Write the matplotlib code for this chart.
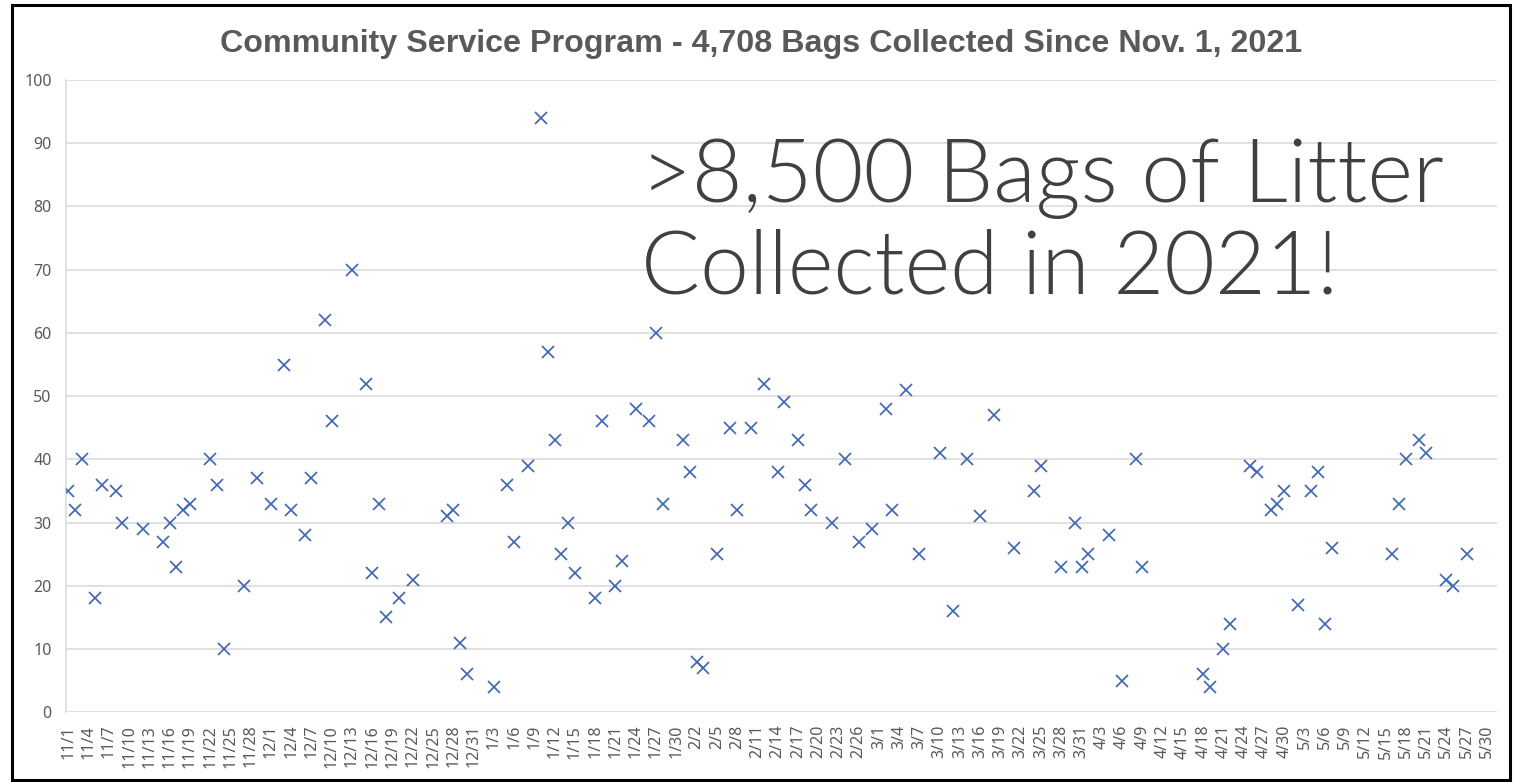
import matplotlib
matplotlib.use('Agg')
import matplotlib.pyplot as plt
import matplotlib.dates as mdates
from matplotlib.patches import Rectangle
import pandas as pd

# Bolsas recogidas por día
fechas = [
    '2021-11-01', '2021-11-02', '2021-11-03', '2021-11-05', '2021-11-06', '2021-11-08',
    '2021-11-09', '2021-11-12', '2021-11-15', '2021-11-16', '2021-11-17', '2021-11-18',
    '2021-11-19', '2021-11-22', '2021-11-23', '2021-11-24', '2021-11-27', '2021-11-29',
    '2021-12-01', '2021-12-03', '2021-12-04', '2021-12-06', '2021-12-07', '2021-12-09',
    '2021-12-10', '2021-12-13', '2021-12-15', '2021-12-16', '2021-12-17', '2021-12-18',
    '2021-12-20', '2021-12-22', '2021-12-27', '2021-12-28', '2021-12-29', '2021-12-30',
    '2022-01-03', '2022-01-05', '2022-01-06', '2022-01-08', '2022-01-10', '2022-01-11',
    '2022-01-12', '2022-01-13', '2022-01-14', '2022-01-15', '2022-01-18', '2022-01-19',
    '2022-01-21', '2022-01-22', '2022-01-24', '2022-01-26', '2022-01-27', '2022-01-28',
    '2022-01-31', '2022-02-01', '2022-02-02', '2022-02-03', '2022-02-05', '2022-02-07',
    '2022-02-08', '2022-02-10', '2022-02-12', '2022-02-14', '2022-02-15', '2022-02-17',
    '2022-02-18', '2022-02-19', '2022-02-22', '2022-02-24', '2022-02-26', '2022-02-28',
    '2022-03-02', '2022-03-03', '2022-03-05', '2022-03-07', '2022-03-10', '2022-03-12',
    '2022-03-14', '2022-03-16', '2022-03-18', '2022-03-21', '2022-03-24', '2022-03-25',
    '2022-03-28', '2022-03-30', '2022-03-31', '2022-04-01', '2022-04-04', '2022-04-06',
    '2022-04-08', '2022-04-09', '2022-04-18', '2022-04-19', '2022-04-21', '2022-04-22',
    '2022-04-25', '2022-04-26', '2022-04-28', '2022-04-29', '2022-04-30', '2022-05-02',
    '2022-05-04', '2022-05-05', '2022-05-06', '2022-05-07', '2022-05-16', '2022-05-17',
    '2022-05-18', '2022-05-20', '2022-05-21', '2022-05-24', '2022-05-25', '2022-05-27',
]
bolsas = [
    35, 32, 40, 18, 36, 35,
    30, 29, 27, 30, 23, 32,
    33, 40, 36, 10, 20, 37,
    33, 55, 32, 28, 37, 62,
    46, 70, 52, 22, 33, 15,
    18, 21, 31, 32, 11, 6,
    4, 36, 27, 39, 94, 57,
    43, 25, 30, 22, 18, 46,
    20, 24, 48, 46, 60, 33,
    43, 38, 8, 7, 25, 45,
    32, 45, 52, 38, 49, 43,
    36, 32, 30, 40, 27, 29,
    48, 32, 51, 25, 41, 16,
    40, 31, 47, 26, 35, 39,
    23, 30, 23, 25, 28, 5,
    40, 23, 6, 4, 10, 14,
    39, 38, 32, 33, 35, 17,
    35, 38, 14, 26, 25, 33,
    40, 43, 41, 21, 20, 25,
]

titulo = 'Community Service Program - 4,708 Bags Collected Since Nov. 1, 2021'
linea1 = '>8,500 Bags of Litter'
linea2 = 'Collected in 2021!'

W, H = 1514, 782
gris = '#595959'
rejilla = '#D9D9D9'

x = mdates.date2num(pd.to_datetime(fechas))
inicio = mdates.date2num(pd.Timestamp('2021-11-01'))
ticks = pd.date_range('2021-11-01', '2022-05-30', freq='3D')

fig = plt.figure(figsize=(W / 100, H / 100), dpi=100)
ax = fig.add_axes([65.7 / W, 1 - 712.3 / H, (1496.7 - 65.7) / W, (712.3 - 80) / H])

ax.plot(x, bolsas, linestyle='none', marker='x', ms=9, mew=1.25, color='#4068B4', zorder=3)

ax.set_xlim(inicio - 0.385, inicio + 211.45)
ax.set_ylim(0, 100)
ax.set_yticks(range(0, 101, 10))
ax.set_xticks(mdates.date2num(ticks))
ax.set_xticklabels([f'{d.month}/{d.day}' for d in ticks], rotation=90, va='top', ha='center')

ax.yaxis.grid(True, color=rejilla, lw=1.1)
ax.set_axisbelow(True)
for s in ['top', 'right', 'bottom']:
    ax.spines[s].set_visible(False)
ax.spines['left'].set_color(rejilla)
ax.spines['left'].set_linewidth(1.1)
ax.tick_params(axis='both', length=0, labelcolor=gris, labelsize=11.5)
ax.tick_params(axis='x', pad=9)
ax.tick_params(axis='y', pad=10)
for lab in ax.get_xticklabels() + ax.get_yticklabels():
    lab.set_family('Noto Sans')

fig.text(761 / W, 1 - 52 / H, titulo, ha='center', va='baseline', fontsize=23.2,
         fontweight='bold', color=gris, family='Liberation Sans')

fig.text(641 / W, 1 - 201.7 / H, linea1, ha='left', va='baseline', fontsize=63,
         fontweight=300, color='#404040', family='Lato')
fig.text(641 / W, 1 - 293.3 / H, linea2, ha='left', va='baseline', fontsize=63,
         fontweight=300, color='#404040', family='Lato')

fig.patches.append(Rectangle((12 / W, 1 - 780 / H), (1510 - 12) / W, (780 - 5) / H,
                             transform=fig.transFigure, fill=False, edgecolor='black', lw=2.2))

fig.savefig('out.png', dpi=100)
